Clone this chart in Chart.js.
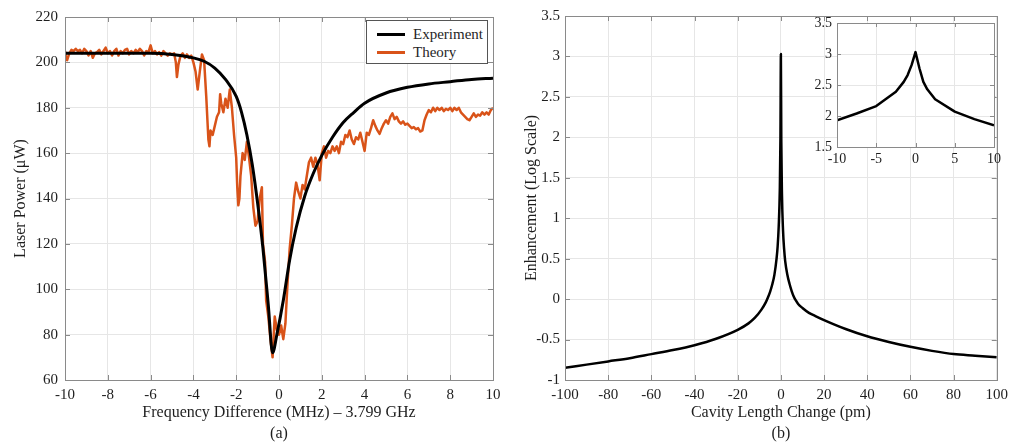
<!DOCTYPE html>
<html>
<head>
<meta charset="utf-8">
<script src="https://cdn.jsdelivr.net/npm/chart.js@4.4.1/dist/chart.umd.min.js"></script>
<style>
  body { margin: 0; background: #fff; overflow: hidden; }
  #wrap { position: relative; width: 1014px; height: 447px; }
  canvas { position: absolute; }
  #legend {
    position: absolute; left: 366px; top: 20px; width: 120px; height: 42px;
    border: 1px solid #555; background: #fff;
    font-family: 'Liberation Serif', serif; font-size: 15px; color: #262626;
  }
  #legend .row { position: absolute; left: 0; height: 18px; line-height: 18px; }
  #legend .swatch { position: absolute; left: 10px; top: 8px; width: 28px; height: 3px; }
  #legend .label { position: absolute; left: 46px; top: 0; white-space: nowrap; }
</style>
</head>
<body>
<div id="wrap">
  <canvas id="chartA" width="510" height="447" style="left:0;top:0"></canvas>
  <canvas id="chartB" width="509" height="447" style="left:505px;top:0"></canvas>
  <canvas id="inset" width="215" height="175" style="left:790px;top:0"></canvas>
  <div id="legend">
    <div class="row" style="top:4px"><span class="swatch" style="background:#000"></span><span class="label">Experiment</span></div>
    <div class="row" style="top:22px"><span class="swatch" style="background:#D95319"></span><span class="label">Theory</span></div>
  </div>
</div>
<script>
// panel (a): laser power vs frequency difference
const freqTicks = [-10, -8, -6, -4, -2, 0, 2, 4, 6, 8, 10];
const powerTicks = [60, 80, 100, 120, 140, 160, 180, 200, 220];

const experimentPts = [
  [-10, 204], [-8, 204], [-6, 204], [-5, 203.5], [-4, 202], [-3.5, 200.5], [-3, 197.5],
  [-2.5, 192.5], [-2, 185], [-1.75, 178], [-1.5, 168], [-1.25, 155], [-1, 138], [-0.75, 118],
  [-0.5, 93], [-0.3, 72], [-0.1, 80], [0.2, 95], [0.5, 113], [0.8, 127], [1.2, 141], [1.6, 151],
  [2, 159], [2.5, 167], [3, 173.5], [3.5, 178], [4, 182], [5, 186.5], [6, 189], [7, 190.5],
  [8, 191.5], [9, 192.5], [10, 193]
];

const theoryPts = [
  [-10, 205], [-9.95, 202], [-9.9, 201], [-9.8, 204], [-9.7, 205.5], [-9.6, 205], [-9.5, 206],
  [-9.4, 205], [-9.3, 205.5], [-9.2, 204], [-9.1, 206], [-9, 205], [-8.9, 203], [-8.8, 205],
  [-8.7, 202], [-8.6, 204], [-8.5, 204.5], [-8.4, 205.5], [-8.3, 203.5], [-8.2, 205], [-8.1, 206.5],
  [-8, 204], [-7.9, 205], [-7.8, 203], [-7.7, 205], [-7.6, 206], [-7.5, 203], [-7.4, 205],
  [-7.3, 204], [-7.2, 205.5], [-7.1, 206], [-7, 203.5], [-6.9, 205], [-6.8, 204], [-6.7, 205.5],
  [-6.6, 204.5], [-6.5, 206], [-6.4, 205], [-6.3, 203], [-6.2, 205], [-6.1, 204.5], [-6, 207.5],
  [-5.9, 204], [-5.8, 205], [-5.7, 203.5], [-5.6, 204.5], [-5.5, 203], [-5.4, 205], [-5.3, 204],
  [-5.2, 203], [-5.1, 204], [-5, 203.5], [-4.9, 204], [-4.82, 200], [-4.77, 193.5], [-4.7, 199],
  [-4.6, 203], [-4.5, 204], [-4.4, 202], [-4.3, 203.5], [-4.2, 202], [-4.1, 203], [-4, 200],
  [-3.9, 196], [-3.8, 188], [-3.7, 196], [-3.6, 203.5], [-3.5, 201], [-3.4, 185], [-3.3, 166],
  [-3.25, 163], [-3.2, 170], [-3.1, 168], [-3, 172], [-2.9, 176], [-2.8, 178], [-2.75, 186],
  [-2.7, 182], [-2.6, 178], [-2.5, 184], [-2.4, 180], [-2.3, 188], [-2.2, 180], [-2.1, 168],
  [-2, 158], [-1.95, 145], [-1.9, 137], [-1.85, 140], [-1.8, 150], [-1.7, 160], [-1.6, 157],
  [-1.5, 165], [-1.4, 158], [-1.3, 150], [-1.2, 136], [-1.1, 128], [-1, 130], [-0.9, 140],
  [-0.8, 145], [-0.75, 120], [-0.65, 112], [-0.6, 95], [-0.5, 88], [-0.4, 78], [-0.3, 70],
  [-0.2, 88], [-0.1, 82], [0, 80], [0.1, 84], [0.2, 78], [0.3, 85], [0.4, 103], [0.5, 118],
  [0.6, 128], [0.7, 140], [0.8, 147], [0.9, 143], [1, 140], [1.1, 146], [1.2, 144], [1.3, 150],
  [1.4, 156], [1.5, 158], [1.6, 154], [1.7, 158], [1.8, 155], [1.9, 148], [2, 160], [2.1, 163],
  [2.2, 158], [2.3, 161], [2.4, 160], [2.5, 163], [2.6, 161], [2.7, 163], [2.8, 160], [2.9, 165],
  [3, 164], [3.1, 168], [3.2, 167], [3.3, 170], [3.4, 166], [3.5, 164], [3.6, 167], [3.7, 166],
  [3.8, 169], [3.9, 165], [4, 161], [4.1, 169], [4.2, 168], [4.3, 171], [4.4, 174.5], [4.5, 172],
  [4.6, 170], [4.7, 168.5], [4.8, 171], [4.9, 173], [5, 174.5], [5.1, 173], [5.2, 176], [5.3, 177.5],
  [5.4, 175], [5.5, 176], [5.6, 174], [5.7, 173], [5.8, 174], [5.9, 172.5], [6, 173], [6.1, 172],
  [6.2, 171], [6.3, 171.5], [6.4, 170.5], [6.5, 171], [6.6, 169.5], [6.7, 170], [6.8, 174.5],
  [6.9, 177], [7, 179], [7.1, 178], [7.2, 180], [7.3, 178.5], [7.4, 180], [7.5, 179], [7.6, 180],
  [7.7, 178.5], [7.8, 179.5], [7.9, 179], [8, 180], [8.1, 178.5], [8.2, 180], [8.3, 179], [8.4, 180],
  [8.5, 178], [8.6, 177], [8.7, 176], [8.8, 175], [8.9, 174.5], [9, 176], [9.1, 177.5], [9.2, 176],
  [9.3, 177], [9.4, 176.5], [9.5, 178], [9.6, 177], [9.7, 178], [9.8, 177], [9.9, 179], [10, 180]
];

// panel (b): enhancement vs cavity length change
const lengthTicks = [-100, -80, -60, -40, -20, 0, 20, 40, 60, 80, 100];
const enhanceTicks = [-1, -0.5, 0, 0.5, 1, 1.5, 2, 2.5, 3, 3.5];

const enhancementPts = [
  [-100, -0.85], [-90, -0.81], [-80, -0.77], [-70, -0.73], [-60, -0.68], [-50, -0.63], [-40, -0.57],
  [-30, -0.49], [-20, -0.38], [-15, -0.3], [-12, -0.23], [-9, -0.13], [-7, -0.04], [-6, 0.02],
  [-5, 0.09], [-4, 0.18], [-3, 0.3], [-2, 0.5], [-1.5, 0.65], [-1, 0.9], [-0.5, 1.35], [-0.2, 2.0],
  [0, 3.03], [0.2, 1.95], [0.5, 1.3], [1, 0.85], [1.5, 0.62], [2, 0.47], [3, 0.3], [4, 0.19],
  [5, 0.1], [6, 0.03], [7, -0.02], [8, -0.06], [10, -0.11], [13, -0.17], [16, -0.21], [20, -0.26],
  [30, -0.37], [40, -0.46], [50, -0.53], [60, -0.59], [70, -0.64], [80, -0.68], [90, -0.7], [100, -0.72]
];

// inset of panel (b)
const insetLengthTicks = [-10, -5, 0, 5, 10];
const insetEnhanceTicks = [1.5, 2, 2.5, 3, 3.5];

const insetPts = [
  [-10, 1.93], [-7.5, 2.04], [-5, 2.16], [-2.5, 2.39], [-1.5, 2.55], [-1, 2.66], [-0.5, 2.82],
  [0, 3.03], [0.5, 2.77], [1, 2.55], [1.5, 2.43], [2.5, 2.27], [5, 2.07], [7.5, 1.95], [10, 1.85]
];

const serif = "'Liberation Serif', 'Times New Roman', serif";
const gridColor = '#e6e6e6';
const frameColor = '#8a8a8a';
const textColor = '#1e1e1e';
const orange = '#D95319';

function toXY(pts) {
  return pts.map(p => ({ x: p[0], y: p[1] }));
}

function fixedTicks(list) {
  return function (scale) {
    scale.ticks = list.map(v => ({ value: v }));
  };
}

// box round the axes with small inward tick marks, like matlab
const framePlugin = {
  id: 'frame',
  beforeDraw(chart, args, opts) {
    if (!opts.fill) return;
    const a = chart.chartArea;
    chart.ctx.save();
    chart.ctx.fillStyle = opts.fill;
    chart.ctx.fillRect(a.left, a.top, a.right - a.left, a.bottom - a.top);
    chart.ctx.restore();
  },
  afterDraw(chart, args, opts) {
    const { ctx, chartArea: a, scales } = chart;
    const len = opts.len || 5;
    ctx.save();
    ctx.strokeStyle = frameColor;
    ctx.lineWidth = 1;
    ctx.beginPath();
    scales.x.ticks.forEach(t => {
      const px = Math.round(scales.x.getPixelForValue(t.value)) + 0.5;
      ctx.moveTo(px, a.bottom); ctx.lineTo(px, a.bottom - len);
      ctx.moveTo(px, a.top); ctx.lineTo(px, a.top + len);
    });
    scales.y.ticks.forEach(t => {
      const py = Math.round(scales.y.getPixelForValue(t.value)) + 0.5;
      ctx.moveTo(a.left, py); ctx.lineTo(a.left + len, py);
      ctx.moveTo(a.right, py); ctx.lineTo(a.right - len, py);
    });
    ctx.stroke();
    ctx.strokeRect(Math.round(a.left) + 0.5, Math.round(a.top) + 0.5,
      Math.round(a.right - a.left), Math.round(a.bottom - a.top));
    ctx.restore();
  }
};

function axis(cfg) {
  const out = {
    type: 'linear',
    min: cfg.ticks[0],
    max: cfg.ticks[cfg.ticks.length - 1],
    afterBuildTicks: fixedTicks(cfg.ticks),
    grid: { color: gridColor, drawTicks: false },
    border: { display: false },
    ticks: {
      padding: cfg.pad, color: textColor, maxRotation: 0, autoSkip: false,
      font: { family: serif, size: cfg.size },
      callback: v => String(v)
    },
    title: cfg.title ? {
      display: true, text: cfg.title, color: textColor,
      font: { family: serif, size: 16, lineHeight: cfg.lineHeight || 1.2 },
      padding: cfg.titlePad
    } : { display: false }
  };
  if (cfg.width) out.afterFit = s => { s.width = cfg.width; };
  if (cfg.height) out.afterFit = s => { s.height = cfg.height; };
  return out;
}

const baseOpts = {
  responsive: false,
  animation: false,
  events: [],
};

new Chart(document.getElementById('chartA'), {
  type: 'scatter',
  data: {
    datasets: [
      {
        label: 'Experiment', data: toXY(experimentPts), showLine: true, pointRadius: 0,
        borderColor: '#000', borderWidth: 3, cubicInterpolationMode: 'monotone'
      },
      {
        label: 'Theory', data: toXY(theoryPts), showLine: true, pointRadius: 0,
        borderColor: orange, borderWidth: 2.5, tension: 0, borderJoinStyle: 'round'
      }
    ]
  },
  options: {
    ...baseOpts,
    layout: { padding: { top: 17, right: 17, left: 0, bottom: 0 } },
    plugins: { legend: { display: false }, tooltip: { enabled: false }, frame: { len: 5 } },
    scales: {
      x: axis({ ticks: freqTicks, pad: 6, size: 15, height: 67, lineHeight: 1.3,
        title: ['Frequency Difference (MHz) – 3.799 GHz', '(a)'], titlePad: { top: 0, bottom: 3 } }),
      y: axis({ ticks: powerTicks, pad: 7, size: 15, width: 65,
        title: 'Laser Power (μW)', titlePad: { top: 11, bottom: 0 } })
    }
  },
  plugins: [framePlugin]
});

new Chart(document.getElementById('chartB'), {
  type: 'scatter',
  data: {
    datasets: [{
      label: 'Enhancement', data: toXY(enhancementPts), showLine: true, pointRadius: 0,
      borderColor: '#000', borderWidth: 2.5, cubicInterpolationMode: 'monotone',
      borderJoinStyle: 'round'
    }]
  },
  options: {
    ...baseOpts,
    layout: { padding: { top: 16, right: 11, left: 0, bottom: 0 } },
    plugins: { legend: { display: false }, tooltip: { enabled: false }, frame: { len: 5 } },
    scales: {
      x: axis({ ticks: lengthTicks, pad: 6, size: 15, height: 67, lineHeight: 1.3,
        title: ['Cavity Length Change (pm)', '(b)'], titlePad: { top: 0, bottom: 3 } }),
      y: axis({ ticks: enhanceTicks, pad: 5, size: 15, width: 60,
        title: 'Enhancement (Log Scale)', titlePad: { top: 17, bottom: 0 } })
    }
  },
  plugins: [framePlugin]
});

new Chart(document.getElementById('inset'), {
  type: 'scatter',
  data: {
    datasets: [{
      label: 'Inset', data: toXY(insetPts), showLine: true, pointRadius: 0,
      borderColor: '#000', borderWidth: 2.5, tension: 0, borderJoinStyle: 'round'
    }]
  },
  options: {
    ...baseOpts,
    layout: { padding: { top: 23, right: 10, left: 0, bottom: 0 } },
    plugins: { legend: { display: false }, tooltip: { enabled: false }, frame: { len: 4, fill: '#fff' } },
    scales: {
      x: axis({ ticks: insetLengthTicks, pad: 4, size: 14, height: 28 }),
      y: axis({ ticks: insetEnhanceTicks, pad: 5, size: 14, width: 47 })
    }
  },
  plugins: [framePlugin]
});
</script>
</body>
</html>
